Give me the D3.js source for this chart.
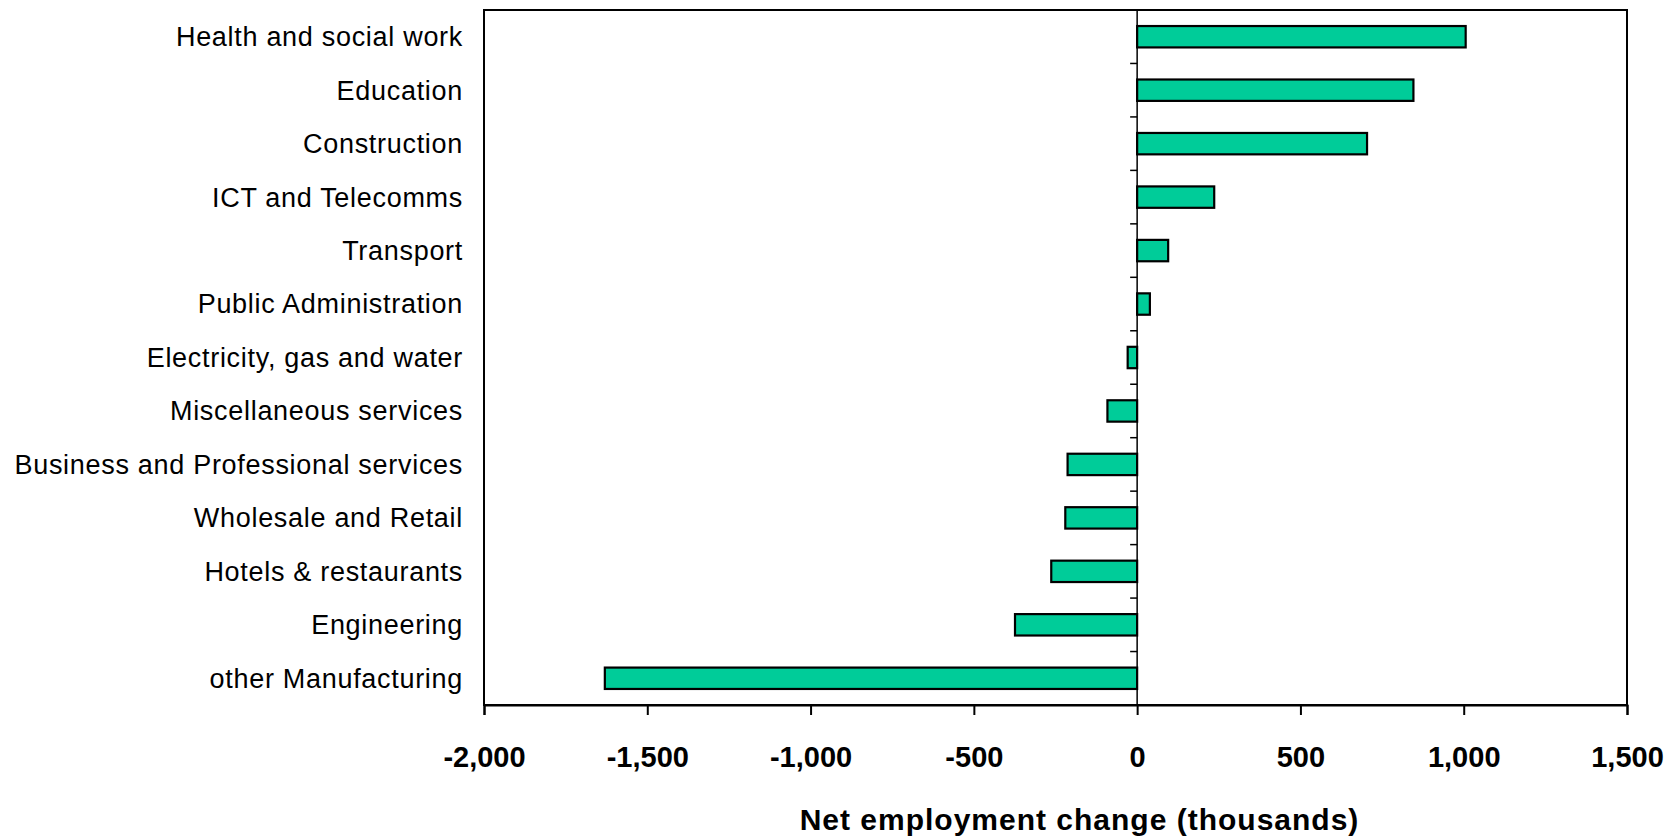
<!DOCTYPE html>
<html>
<head>
<meta charset="utf-8">
<script src="https://cdn.jsdelivr.net/npm/d3@7"></script>
<style>
  html, body { margin: 0; padding: 0; background: #fff; }
  svg { display: block; }
</style>
</head>
<body>
<svg id="chart" width="1675" height="837"></svg>
<script>
const categories = [
  "Health and social work",
  "Education",
  "Construction",
  "ICT and Telecomms",
  "Transport",
  "Public Administration",
  "Electricity, gas and water",
  "Miscellaneous services",
  "Business and Professional services",
  "Wholesale and Retail",
  "Hotels & restaurants",
  "Engineering",
  "other Manufacturing"
];
const values = [1006, 846, 704, 236, 95, 39, -29, -91, -213, -220, -263, -374, -1630];
const xTicks = [-2000, -1500, -1000, -500, 0, 500, 1000, 1500];
const xDomain = [-2000, 1500];
const xTitle = "Net employment change (thousands)";

const svg = d3.select("#chart");
const L = 484, R = 1627, T = 10, B = 705;

const x = d3.scaleLinear().domain(xDomain).range([L, R]);
const y = d3.scaleBand().domain(categories).range([T, B]).paddingInner(0.6).paddingOuter(0.3);

// plot frame
svg.append("rect")
  .attr("x", L).attr("y", T).attr("width", R - L).attr("height", B - T)
  .attr("fill", "none").attr("stroke", "#000").attr("stroke-width", 2);

// bars
svg.append("g").selectAll("rect")
  .data(categories.map((c, i) => ({c, v: values[i]})))
  .join("rect")
  .attr("x", d => x(Math.min(0, d.v)))
  .attr("y", d => y(d.c))
  .attr("width", d => Math.abs(x(d.v) - x(0)))
  .attr("height", y.bandwidth())
  .attr("fill", "#00CC99")
  .attr("stroke", "#000")
  .attr("stroke-width", 2.2);

// zero axis line with category separator ticks
const step = y.step();
const zeroG = svg.append("g");
zeroG.append("line")
  .attr("x1", x(0)).attr("x2", x(0)).attr("y1", T).attr("y2", B)
  .attr("stroke", "#000").attr("stroke-width", 1.5);
const sepTicks = d3.range(1, categories.length + 1).map(i => T + i * step);
zeroG.selectAll("line.sep").data(sepTicks).join("line")
  .attr("class", "sep")
  .attr("x1", x(0) - 7).attr("x2", x(0)).attr("y1", d => d).attr("y2", d => d)
  .attr("stroke", "#000").attr("stroke-width", 1.5);

// category labels
svg.append("g").selectAll("text")
  .data(categories).join("text")
  .attr("x", 463)
  .attr("y", d => y(d) + y.bandwidth() / 2)
  .attr("dy", "0.35em")
  .attr("text-anchor", "end")
  .attr("font-family", "Liberation Sans, Arial, sans-serif")
  .attr("font-size", 27)
  .attr("letter-spacing", 0.7)
  .attr("fill", "#000")
  .text(d => d);

// x axis
const fmt = d3.format(",");
const xAxis = d3.axisBottom(x).tickValues(xTicks).tickSize(10).tickPadding(31)
  .tickFormat(d => fmt(d).replace("\u2212", "-"));
const gx = svg.append("g").attr("transform", `translate(0,${B})`).call(xAxis);
gx.select(".domain").attr("stroke", "#000").attr("stroke-width", 2);
gx.selectAll(".tick line").attr("stroke", "#000").attr("stroke-width", 2);
gx.selectAll(".tick text")
  .attr("font-family", "Liberation Sans, Arial, sans-serif")
  .attr("font-size", 29)
  .attr("font-weight", "bold")
  .attr("fill", "#000");

// x title
svg.append("text")
  .attr("x", (799 + 1360) / 2)
  .attr("y", 830)
  .attr("text-anchor", "middle")
  .attr("font-family", "Liberation Sans, Arial, sans-serif")
  .attr("font-size", 30)
  .attr("font-weight", "bold")
  .attr("letter-spacing", 1)
  .attr("fill", "#000")
  .text(xTitle);
</script>
</body>
</html>
